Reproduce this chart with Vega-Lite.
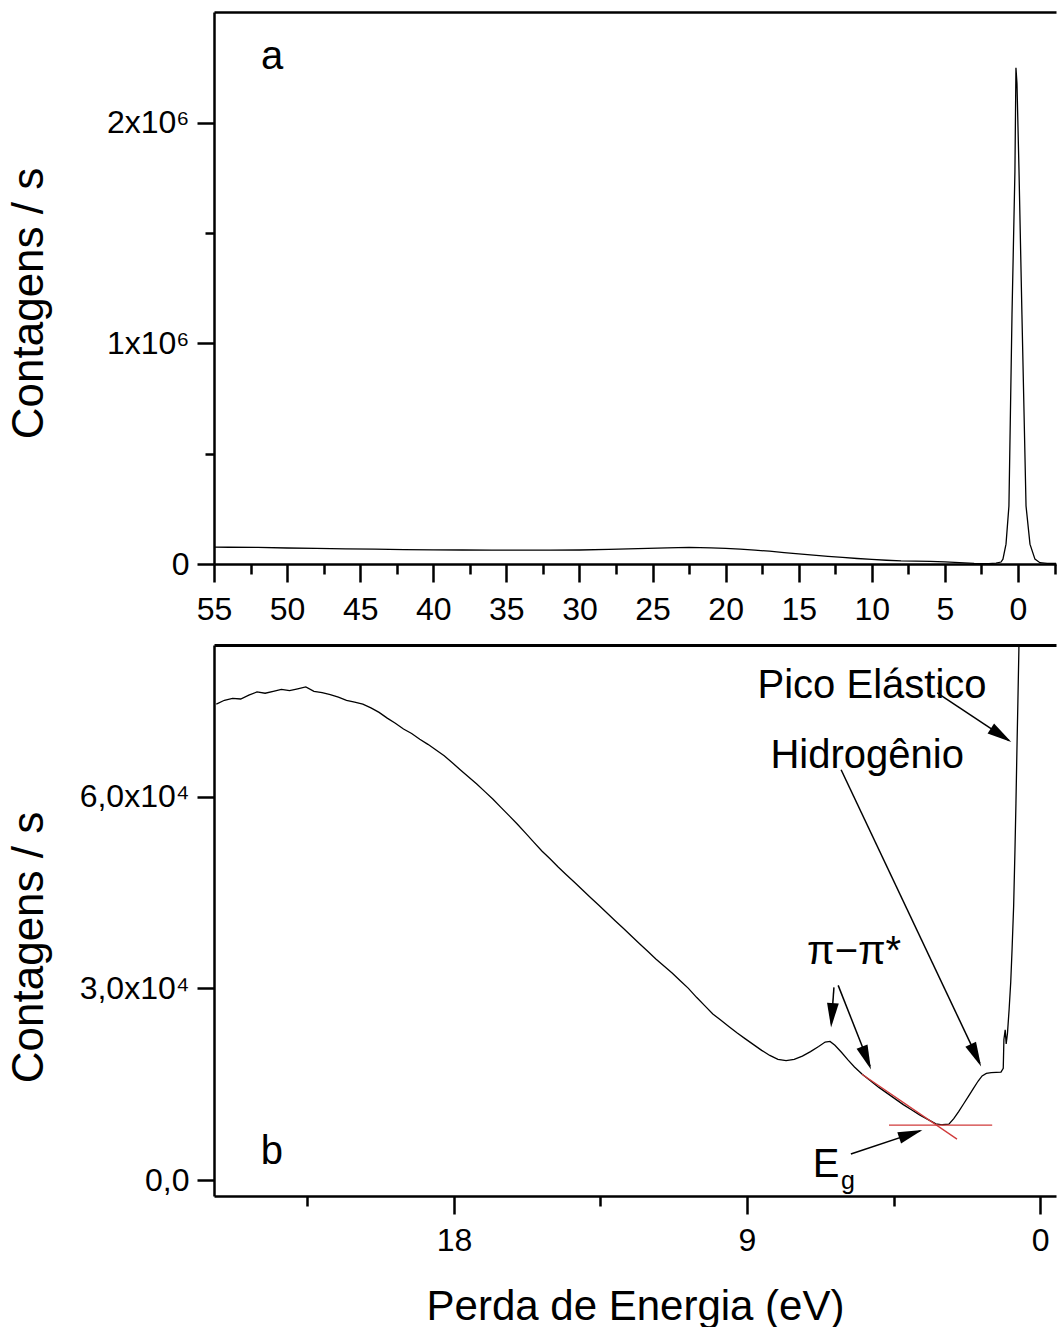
{
  "$schema": "https://vega.github.io/schema/vega-lite/v6.json",
  "background": "white",
  "padding": {"left": 7, "top": 12, "right": 0, "bottom": 0},
  "spacing": 20,
  "config": {
    "font": "Liberation Sans",
    "view": {"stroke": null},
    "axis": {
      "labelFont": "Liberation Sans", "titleFont": "Liberation Sans",
      "labelFontSize": 32, "titleFontSize": 42, "titleFontWeight": "normal",
      "labelColor": "#000", "titleColor": "#000", "domainColor": "#000", "tickColor": "#000",
      "domainWidth": 2.5, "tickWidth": 2.5, "grid": false, "labelOverlap": false, "labelFlush": false
    },
    "text": {"font": "Liberation Sans", "color": "#000"}
  },
  "datasets": {
    "a": [
      {"E": 55.0, "C": 76500}, {"E": 54.0, "C": 76000}, {"E": 52.0, "C": 75000}, {"E": 50.0, "C": 72500},
      {"E": 48.0, "C": 70500}, {"E": 46.0, "C": 69000}, {"E": 44.0, "C": 67000}, {"E": 42.0, "C": 65500},
      {"E": 40.0, "C": 64500}, {"E": 38.0, "C": 63500}, {"E": 36.0, "C": 63000}, {"E": 34.0, "C": 63000},
      {"E": 32.0, "C": 62500}, {"E": 30.0, "C": 63500}, {"E": 28.0, "C": 66000}, {"E": 26.0, "C": 70000},
      {"E": 24.0, "C": 73500}, {"E": 22.5, "C": 75000}, {"E": 21.0, "C": 73000}, {"E": 20.0, "C": 71000},
      {"E": 19.0, "C": 67000}, {"E": 18.0, "C": 63000}, {"E": 17.0, "C": 58000}, {"E": 16.0, "C": 52000},
      {"E": 15.0, "C": 46000}, {"E": 14.0, "C": 40000}, {"E": 13.0, "C": 35000}, {"E": 12.0, "C": 30000},
      {"E": 11.0, "C": 25000}, {"E": 10.0, "C": 21000}, {"E": 9.0, "C": 17000}, {"E": 8.0, "C": 14000},
      {"E": 7.0, "C": 13000}, {"E": 6.0, "C": 12000}, {"E": 5.0, "C": 10000}, {"E": 4.0, "C": 6000},
      {"E": 3.0, "C": 3000}, {"E": 2.0, "C": 2000}, {"E": 1.5, "C": 4000}, {"E": 1.16, "C": 9000},
      {"E": 1.03, "C": 22000}, {"E": 0.82, "C": 90000}, {"E": 0.62, "C": 263000}, {"E": 0.41, "C": 1130000},
      {"E": 0.21, "C": 1780000}, {"E": 0.14, "C": 2250000}, {"E": 0.07, "C": 2180000}, {"E": -0.07, "C": 1780000},
      {"E": -0.27, "C": 1130000}, {"E": -0.55, "C": 263000}, {"E": -0.82, "C": 90000}, {"E": -1.16, "C": 22000},
      {"E": -1.5, "C": 6000}, {"E": -2.0, "C": 3000}, {"E": -2.6, "C": 2500}
    ],
    "b": [
      {"E": 25.30, "C": 74500}, {"E": 25.05, "C": 75100}, {"E": 24.80, "C": 75400}, {"E": 24.55, "C": 75300},
      {"E": 24.30, "C": 75900}, {"E": 24.05, "C": 76400}, {"E": 23.80, "C": 76200}, {"E": 23.55, "C": 76500},
      {"E": 23.30, "C": 76800}, {"E": 23.05, "C": 76600}, {"E": 22.80, "C": 76900}, {"E": 22.55, "C": 77200},
      {"E": 22.30, "C": 76500}, {"E": 22.05, "C": 76300}, {"E": 21.80, "C": 76000}, {"E": 21.55, "C": 75600},
      {"E": 21.30, "C": 75100}, {"E": 21.05, "C": 74800}, {"E": 20.80, "C": 74500}, {"E": 20.55, "C": 73900},
      {"E": 20.30, "C": 73200}, {"E": 20.05, "C": 72300}, {"E": 19.80, "C": 71500}, {"E": 19.55, "C": 70600},
      {"E": 19.30, "C": 69900}, {"E": 19.05, "C": 69000}, {"E": 18.80, "C": 68200}, {"E": 18.55, "C": 67300},
      {"E": 18.30, "C": 66400}, {"E": 18.05, "C": 65300}, {"E": 17.80, "C": 64200}, {"E": 17.55, "C": 63100},
      {"E": 17.30, "C": 62000}, {"E": 17.05, "C": 60800}, {"E": 16.80, "C": 59600}, {"E": 16.55, "C": 58300},
      {"E": 16.30, "C": 57000}, {"E": 16.05, "C": 55700}, {"E": 15.80, "C": 54300}, {"E": 15.55, "C": 52900},
      {"E": 15.30, "C": 51500}, {"E": 15.05, "C": 50300}, {"E": 14.80, "C": 49000}, {"E": 14.55, "C": 47800},
      {"E": 14.30, "C": 46600}, {"E": 14.05, "C": 45400}, {"E": 13.80, "C": 44200}, {"E": 13.55, "C": 43000},
      {"E": 13.30, "C": 41800}, {"E": 13.05, "C": 40600}, {"E": 12.80, "C": 39400}, {"E": 12.55, "C": 38200},
      {"E": 12.30, "C": 37000}, {"E": 12.05, "C": 35800}, {"E": 11.80, "C": 34600}, {"E": 11.55, "C": 33500},
      {"E": 11.30, "C": 32400}, {"E": 11.05, "C": 31200}, {"E": 10.80, "C": 30000}, {"E": 10.55, "C": 28600},
      {"E": 10.30, "C": 27300}, {"E": 10.05, "C": 26000}, {"E": 9.80, "C": 25000}, {"E": 9.55, "C": 24000},
      {"E": 9.30, "C": 23000}, {"E": 9.05, "C": 22100}, {"E": 8.80, "C": 21200}, {"E": 8.55, "C": 20300},
      {"E": 8.30, "C": 19500}, {"E": 8.05, "C": 18900}, {"E": 7.80, "C": 18700}, {"E": 7.55, "C": 18900},
      {"E": 7.30, "C": 19400}, {"E": 7.05, "C": 20100}, {"E": 6.80, "C": 20900}, {"E": 6.60, "C": 21600},
      {"E": 6.45, "C": 21700}, {"E": 6.30, "C": 21100}, {"E": 6.10, "C": 20000}, {"E": 5.90, "C": 18800},
      {"E": 5.70, "C": 17700}, {"E": 5.47, "C": 16600}, {"E": 5.20, "C": 15500}, {"E": 4.95, "C": 14500},
      {"E": 4.70, "C": 13600}, {"E": 4.45, "C": 12700}, {"E": 4.20, "C": 11800}, {"E": 3.95, "C": 11000},
      {"E": 3.70, "C": 10200}, {"E": 3.45, "C": 9500}, {"E": 3.20, "C": 8800}, {"E": 3.00, "C": 8650},
      {"E": 2.80, "C": 8750}, {"E": 2.65, "C": 9600}, {"E": 2.50, "C": 10700}, {"E": 2.35, "C": 11900},
      {"E": 2.20, "C": 13100}, {"E": 2.05, "C": 14300}, {"E": 1.90, "C": 15500}, {"E": 1.78, "C": 16300},
      {"E": 1.65, "C": 16700}, {"E": 1.50, "C": 16800}, {"E": 1.35, "C": 16850}, {"E": 1.20, "C": 16900},
      {"E": 1.13, "C": 17500}, {"E": 1.11, "C": 22000}, {"E": 1.07, "C": 23500}, {"E": 1.04, "C": 21300},
      {"E": 1.00, "C": 23000}, {"E": 0.95, "C": 26700}, {"E": 0.90, "C": 31000}, {"E": 0.86, "C": 36000},
      {"E": 0.81, "C": 43000}, {"E": 0.77, "C": 51700}, {"E": 0.74, "C": 59000}, {"E": 0.71, "C": 67300},
      {"E": 0.68, "C": 75000}, {"E": 0.65, "C": 83000}, {"E": 0.60, "C": 110000}, {"E": 0.50, "C": 250000}
    ],
    "fit": [
      {"s": "t", "E": 5.47, "C": 16563}, {"s": "t", "E": 2.55, "C": 6406},
      {"s": "h", "E": 4.64, "C": 8594}, {"s": "h", "E": 1.47, "C": 8594}
    ],
    "arrows": [
      {"id": "pico", "E1": 3.16, "C1": 76250, "E2": 0.95, "C2": 68800},
      {"id": "hidro", "E1": 6.11, "C1": 64219, "E2": 1.85, "C2": 18300},
      {"id": "pia", "E1": 6.33, "C1": 30156, "E2": 6.41, "C2": 24500},
      {"id": "pib", "E1": 6.20, "C1": 30469, "E2": 5.22, "C2": 17800},
      {"id": "eg", "E1": 5.81, "C1": 4063, "E2": 3.68, "C2": 7700}
    ],
    "heads": [
      {"id": "pico", "E": 1.198, "C": 69625, "angle": 123.5},
      {"id": "hidro", "E": 1.97, "C": 19516, "angle": 154.8},
      {"id": "pia", "E": 6.39, "C": 25781, "angle": 184.3},
      {"id": "pib", "E": 5.33, "C": 19094, "angle": 158.6},
      {"id": "eg", "E": 3.97, "C": 7219, "angle": 71.3}
    ],
    "labelsB": [
      {"t": "Pico Elástico", "E": 5.16, "C": 75469},
      {"t": "Hidrogênio", "E": 5.31, "C": 64531},
      {"t": "π−π*", "E": 5.71, "C": 33750},
      {"t": "E", "E": 6.57, "C": 469},
      {"t": "b", "E": 23.59, "C": 2500}
    ],
    "subB": [
      {"t": "g", "E": 5.90, "C": -1406}
    ],
    "labelsA": [
      {"t": "a", "E": 51.03, "C": 2244500}
    ]
  },
  "vconcat": [
    {
      "width": 842,
      "height": 552,
      "layer": [
        {
          "data": {"name": "a"},
          "mark": {"type": "line", "color": "#000", "strokeWidth": 1.3, "clip": true},
          "encoding": {
            "x": {
              "field": "E", "type": "quantitative",
              "scale": {"domain": [-2.6, 55], "reverse": true, "nice": false, "zero": false},
              "axis": {
                "orient": "bottom", "title": null,
                "values": [55, 52.5, 50, 47.5, 45, 42.5, 40, 37.5, 35, 32.5, 30, 27.5, 25, 22.5, 20, 17.5, 15, 12.5, 10, 7.5, 5, 2.5, 0, -2.5],
                "tickSize": {"condition": {"test": "datum.value % 5 != 0", "value": 10}, "value": 18},
                "labelExpr": "datum.value % 5 == 0 ? datum.label : ''",
                "labelPadding": 12
              }
            },
            "y": {
              "field": "C", "type": "quantitative",
              "scale": {"domain": [0, 2503000], "nice": false, "zero": false},
              "axis": {
                "orient": "left", "title": "Contagens / s",
                "values": [0, 500000, 1000000, 1500000, 2000000],
                "tickSize": {"condition": {"test": "datum.value % 1000000 != 0", "value": 9}, "value": 17},
                "labelExpr": "datum.value == 0 ? '0' : datum.value == 1000000 ? '1x10⁶' : datum.value == 2000000 ? '2x10⁶' : ''",
                "labelPadding": 8, "titleFontSize": 44,
                "titleX": -172, "titleY": 291, "titleAngle": 270, "titleBaseline": "alphabetic", "titleAlign": "center"
              }
            }
          }
        },
        {
          "data": {"name": "labelsA"},
          "mark": {"type": "text", "fontSize": 40, "baseline": "alphabetic", "align": "center"},
          "encoding": {
            "x": {
              "field": "E", "type": "quantitative",
              "scale": {"domain": [-2.6, 55], "reverse": true, "nice": false, "zero": false},
              "axis": {"orient": "top", "title": null, "labels": false, "ticks": false, "domainWidth": 2.5}
            },
            "y": {"field": "C", "type": "quantitative", "scale": {"domain": [0, 2503000], "nice": false, "zero": false}, "axis": null},
            "text": {"field": "t"}
          }
        }
      ],
      "resolve": {"axis": {"x": "independent", "y": "independent"}}
    },
    {
      "width": 842,
      "height": 551,
      "layer": [
        {
          "data": {"name": "b"},
          "mark": {"type": "line", "color": "#000", "strokeWidth": 1.3, "clip": true},
          "encoding": {
            "x": {
              "field": "E", "type": "quantitative",
              "scale": {"domain": [-0.49, 25.37], "reverse": true, "nice": false, "zero": false},
              "axis": {
                "orient": "bottom", "title": "Perda de Energia (eV)",
                "values": [22.5, 18, 13.5, 9, 4.5, 0],
                "tickSize": {"condition": {"test": "datum.value % 9 != 0", "value": 10}, "value": 18},
                "labelExpr": "datum.value % 9 == 0 ? datum.label : ''",
                "labelPadding": 11, "titlePadding": 30
              }
            },
            "y": {
              "field": "C", "type": "quantitative",
              "scale": {"domain": [-2500, 83750], "nice": false, "zero": false},
              "axis": {
                "orient": "left", "title": "Contagens / s",
                "values": [0, 30000, 60000],
                "tickSize": 17,
                "labelExpr": "datum.value == 0 ? '0,0' : datum.value == 30000 ? '3,0x10⁴' : '6,0x10⁴'",
                "labelPadding": 8, "titleFontSize": 44,
                "titleX": -172, "titleY": 302, "titleAngle": 270, "titleBaseline": "alphabetic", "titleAlign": "center"
              }
            }
          }
        },
        {
          "data": {"name": "fit"},
          "mark": {"type": "line", "color": "#d03a3a", "strokeWidth": 1.3, "clip": true},
          "encoding": {
            "x": {"field": "E", "type": "quantitative", "scale": {"domain": [-0.49, 25.37], "reverse": true, "nice": false, "zero": false}, "axis": null},
            "y": {"field": "C", "type": "quantitative", "scale": {"domain": [-2500, 83750], "nice": false, "zero": false}, "axis": null},
            "detail": {"field": "s"}
          }
        },
        {
          "data": {"name": "arrows"},
          "mark": {"type": "rule", "color": "#000", "strokeWidth": 1.5},
          "encoding": {
            "x": {"field": "E1", "type": "quantitative", "scale": {"domain": [-0.49, 25.37], "reverse": true, "nice": false, "zero": false}, "axis": null},
            "y": {"field": "C1", "type": "quantitative", "scale": {"domain": [-2500, 83750], "nice": false, "zero": false}, "axis": null},
            "x2": {"field": "E2"},
            "y2": {"field": "C2"}
          }
        },
        {
          "data": {"name": "heads"},
          "mark": {"type": "point", "shape": "M0,-1L0.48,1L-0.48,1Z", "filled": true, "color": "#000", "opacity": 1, "size": 600},
          "encoding": {
            "x": {"field": "E", "type": "quantitative", "scale": {"domain": [-0.49, 25.37], "reverse": true, "nice": false, "zero": false}, "axis": null},
            "y": {"field": "C", "type": "quantitative", "scale": {"domain": [-2500, 83750], "nice": false, "zero": false}, "axis": null},
            "angle": {"field": "angle", "type": "quantitative", "scale": null}
          }
        },
        {
          "data": {"name": "subB"},
          "mark": {"type": "text", "fontSize": 25, "baseline": "alphabetic", "align": "center"},
          "encoding": {
            "x": {"field": "E", "type": "quantitative", "scale": {"domain": [-0.49, 25.37], "reverse": true, "nice": false, "zero": false}, "axis": null},
            "y": {"field": "C", "type": "quantitative", "scale": {"domain": [-2500, 83750], "nice": false, "zero": false}, "axis": null},
            "text": {"field": "t"}
          }
        },
        {
          "data": {"name": "labelsB"},
          "mark": {"type": "text", "fontSize": 40, "baseline": "alphabetic", "align": "center"},
          "encoding": {
            "x": {
              "field": "E", "type": "quantitative",
              "scale": {"domain": [-0.49, 25.37], "reverse": true, "nice": false, "zero": false},
              "axis": {"orient": "top", "title": null, "labels": false, "ticks": false, "domainWidth": 3}
            },
            "y": {"field": "C", "type": "quantitative", "scale": {"domain": [-2500, 83750], "nice": false, "zero": false}, "axis": null},
            "text": {"field": "t"}
          }
        }
      ],
      "resolve": {"axis": {"x": "independent", "y": "independent"}}
    }
  ]
}
